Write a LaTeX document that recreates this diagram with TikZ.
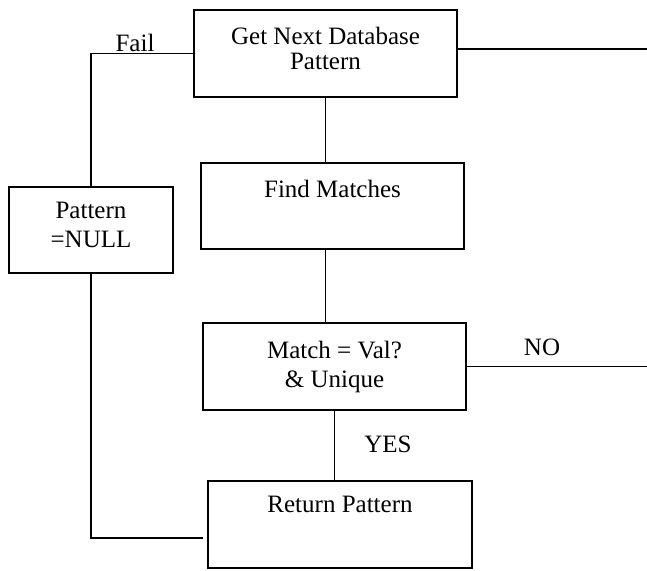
\documentclass[tikz,border=0pt]{standalone}
\usepackage{fontspec}
\setmainfont{Liberation Serif}
\usetikzlibrary{positioning}
\tikzset{
    stepbox/.style={draw, line width=1.8pt, inner sep=0pt},
    boxtext/.style={inner sep=0pt, align=center, font=\fontsize{25}{29}\selectfont},
    link/.style={line width=1.7pt},
}

\begin{document}
\begin{tikzpicture}[x=1pt, y=-1pt]
    \useasboundingbox (0,0) rectangle (647,570);

    %% Boxes
    \node[stepbox, minimum width=263pt, minimum height=87pt] (getnext) at (325.5,53.5) {};
    \node[stepbox, minimum width=263pt, minimum height=86pt] (findm) at (332.5,206) {};
    \node[stepbox, minimum width=164pt, minimum height=86pt] (patnull) at (91,230) {};
    \node[stepbox, minimum width=263pt, minimum height=87pt] (match) at (334.5,366.5) {};
    \node[stepbox, minimum width=264pt, minimum height=87pt] (ret) at (340,524.5) {};

    %% Texts in the boxes
    \node[boxtext, font=\fontsize{25}{25}\selectfont, below=18pt of getnext.north] (getnexttext) {Get Next Database\\Pattern};
    \node[boxtext, below=18pt of findm.north] (findmtext) {Find Matches};
    \node[boxtext, below=16pt of patnull.north] (patnulltext) {Pattern\\=NULL};
    \node[boxtext, below=19pt of match.north] (matchtext) {Match = Val?\\\& Unique};
    \node[boxtext, below=16pt of ret.north] (rettext) {Return Pattern};

    %% Free ends
    \coordinate (nextout) at (647,49);
    \coordinate (noout) at (647,366.5);
    \coordinate (backin) at (203,538);

    %% Connectors
    \draw[link] (getnext.south) -- (getnext.south |- findm.north);
    \draw[link] (getnext.south |- findm.south) -- (getnext.south |- match.north);
    \draw[link] (match.south) -- (match.south |- ret.north);
    \draw[link] (match.east) -- (noout);
    \draw[link] (getnext.east |- nextout) -- (nextout);
    \draw[link] (getnext.west) -| (patnull.north);
    \draw[link] (patnull.south) |- (backin);

    %% Labels
    \node[boxtext, anchor=base] (fail) at (135,51) {Fail};
    \node[boxtext, anchor=base] (no) at (542,355) {NO};
    \node[boxtext, anchor=base] (yes) at (388,452) {YES};

\end{tikzpicture}
\end{document}
